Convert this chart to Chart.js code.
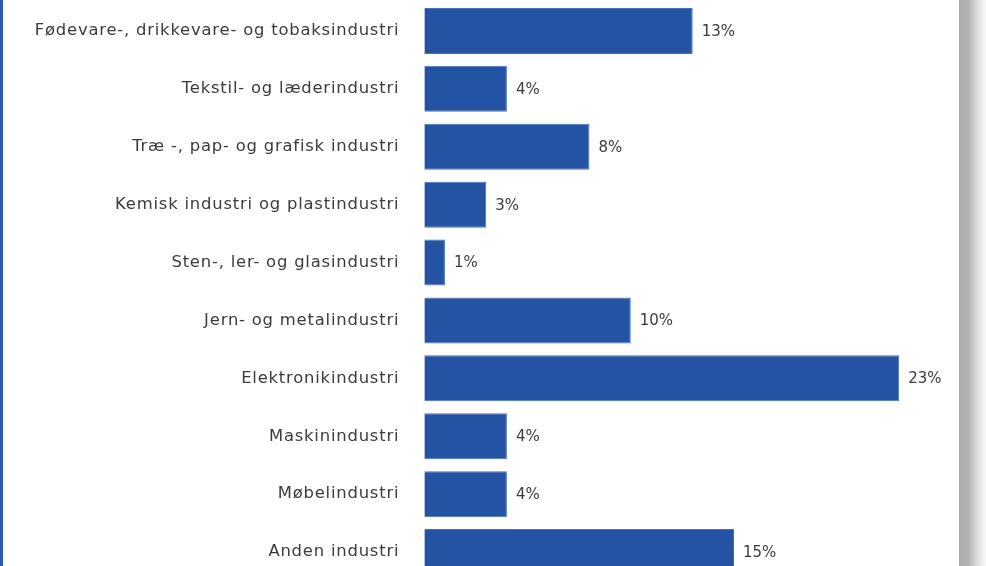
<!DOCTYPE html>
<html>
<head>
<meta charset="utf-8">
<script src="https://cdn.jsdelivr.net/npm/chart.js@4/dist/chart.umd.min.js"></script>
<style>
  html, body { margin: 0; padding: 0; background: #ffffff; overflow: hidden; }
  #page { position: relative; width: 986px; height: 566px; overflow: hidden; background: #ffffff; }
  #edge { position: absolute; left: 0; top: 0; width: 3px; height: 566px; background: #2b5cb1; }
  #shade { position: absolute; left: 959px; top: 0; width: 27px; height: 566px;
           background: linear-gradient(to right, #adadad 0px, #b2b2b2 9px, #d6d6d6 17px, #efefef 23px, #f7f7f7 27px); }
  #chart { position: absolute; left: 3px; top: 0; }
</style>
</head>
<body>
<div id="page">
  <div id="edge"></div>
  <canvas id="chart" width="956" height="583"></canvas>
  <div id="shade"></div>
</div>
<script>
// Share of companies by industry (%)
const industries = [
  "Fødevare-, drikkevare- og tobaksindustri",
  "Tekstil- og læderindustri",
  "Træ -, pap- og grafisk industri",
  "Kemisk industri og plastindustri",
  "Sten-, ler- og glasindustri",
  "Jern- og metalindustri",
  "Elektronikindustri",
  "Maskinindustri",
  "Møbelindustri",
  "Anden industri"
];
const shares = [13, 4, 8, 3, 1, 10, 23, 4, 4, 15];

const FONT = "'DejaVu Sans', 'Open Sans', sans-serif";
const TEXT = "#3b3b3b";

// Slightly airy lettering for the category names
const spacing = {
  id: 'spacing',
  beforeDraw(chart) { chart.ctx.letterSpacing = '0.8px'; }
};

// Writes the percentage just past the end of each bar
const valueLabels = {
  id: 'valueLabels',
  afterDatasetsDraw(chart) {
    const ctx = chart.ctx;
    const meta = chart.getDatasetMeta(0);
    ctx.save();
    ctx.letterSpacing = '0px';
    ctx.font = "15px " + FONT;
    ctx.fillStyle = TEXT;
    ctx.textAlign = 'left';
    ctx.textBaseline = 'middle';
    meta.data.forEach((bar, i) => {
      ctx.fillText(shares[i] + '%', bar.x + 9, bar.y + 1);
    });
    ctx.restore();
  }
};

new Chart(document.getElementById('chart'), {
  type: 'bar',
  data: {
    labels: industries,
    datasets: [{
      data: shares,
      backgroundColor: '#2553a3',
      borderColor: '#4671b9',
      borderWidth: 1,
      categoryPercentage: 1,
      barPercentage: 0.794
    }]
  },
  options: {
    indexAxis: 'y',
    responsive: false,
    animation: false,
    layout: { padding: { top: 2, bottom: 2, right: 18.5, left: 0 } },
    plugins: { legend: { display: false }, tooltip: { enabled: false } },
    scales: {
      x: { display: false, min: 0, max: 25 },
      y: {
        grid: { display: false, drawTicks: false },
        border: { display: false },
        afterFit(scale) {
          scale.width = 421.3;
          scale.paddingTop = 0;
          scale.paddingBottom = 0;
        },
        ticks: {
          padding: 25,
          color: TEXT,
          font: { family: FONT, size: 16.4 }
        }
      }
    }
  },
  plugins: [spacing, valueLabels]
});
</script>
</body>
</html>
